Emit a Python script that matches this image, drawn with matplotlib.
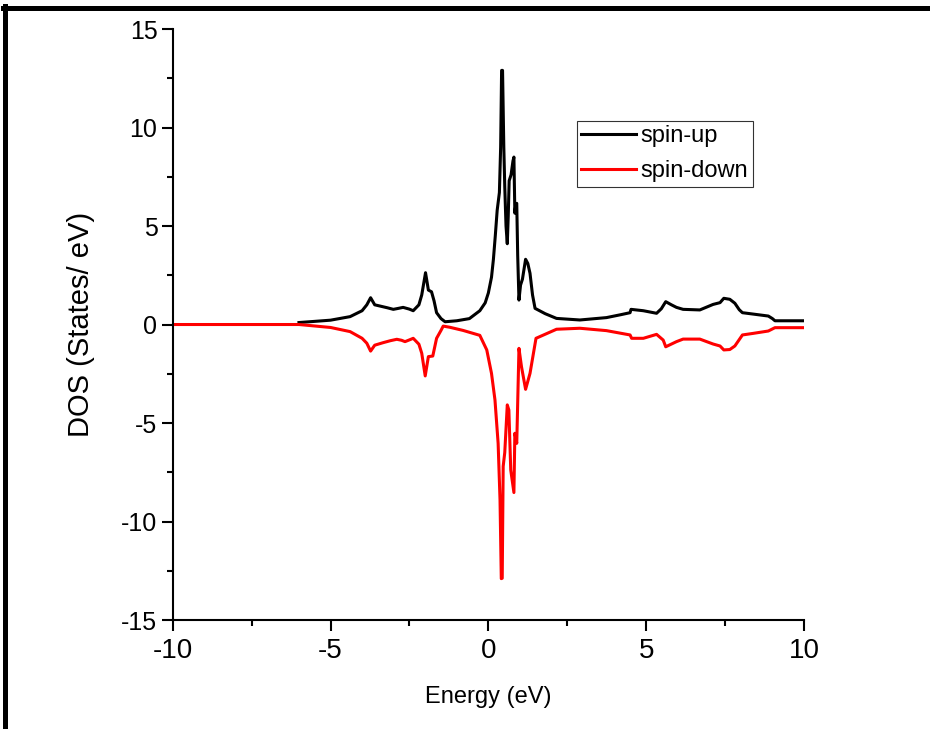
import matplotlib
matplotlib.use('Agg')
import matplotlib.pyplot as plt
from matplotlib.lines import Line2D
from matplotlib.ticker import MultipleLocator

plt.rcParams['font.family'] = ['Liberation Sans', 'DejaVu Sans']
plt.rcParams['axes.unicode_minus'] = False

# spin-up DOS
e_up = [-6.0, -5.0, -4.38, -4.0, -3.85, -3.73, -3.6, -3.44, -3.2, -3.01, -2.85, -2.70, -2.5, -2.38,
        -2.2, -2.11, -1.99, -1.90, -1.80, -1.72, -1.64, -1.5, -1.37, -1.0, -0.6, -0.27, -0.1, 0.0,
        0.1, 0.16, 0.22, 0.28, 0.35, 0.39, 0.42, 0.45, 0.49, 0.52, 0.56, 0.60, 0.63, 0.66, 0.72,
        0.78, 0.81, 0.84, 0.87, 0.90, 0.93, 0.97, 1.02, 1.08, 1.18, 1.25, 1.32, 1.40, 1.48, 1.8,
        2.16, 2.9, 3.74, 4.2, 4.49, 4.52, 4.91, 5.33, 5.48, 5.62, 5.8, 5.96, 6.17, 6.70, 7.12,
        7.34, 7.46, 7.65, 7.81, 7.95, 8.05, 8.39, 8.87, 9.0, 9.08, 10.0]
dos_up = [0.1, 0.22, 0.4, 0.7, 1.0, 1.36, 1.0, 0.94, 0.85, 0.77, 0.82, 0.87, 0.78, 0.70,
          1.0, 1.5, 2.63, 1.75, 1.66, 1.2, 0.6, 0.3, 0.14, 0.19, 0.3, 0.7, 1.1, 1.6,
          2.4, 3.3, 4.5, 5.8, 6.7, 9.0, 12.9, 12.9, 9.0, 7.0, 5.0, 4.1, 5.5, 7.3, 7.6,
          8.3, 8.5, 5.65, 6.1, 6.15, 3.5, 1.24, 2.0, 2.3, 3.31, 3.1, 2.6, 1.5, 0.82, 0.55,
          0.31, 0.23, 0.35, 0.5, 0.6, 0.77, 0.70, 0.57, 0.8, 1.16, 1.0, 0.87, 0.77, 0.74, 1.02,
          1.11, 1.33, 1.28, 1.08, 0.75, 0.6, 0.53, 0.43, 0.3, 0.19, 0.19]

# spin-down DOS
e_dn = [-10.0, -6.0, -5.0, -4.38, -4.0, -3.85, -3.73, -3.6, -3.33, -3.1, -2.9, -2.75, -2.64, -2.5,
        -2.38, -2.2, -2.11, -2.0, -1.90, -1.76, -1.64, -1.5, -1.43, -1.22, -0.8, -0.27, -0.05,
        0.10, 0.21, 0.31, 0.37, 0.41, 0.44, 0.47, 0.52, 0.60, 0.65, 0.71, 0.81, 0.84, 0.90, 0.97,
        1.05, 1.18, 1.32, 1.51, 2.16, 2.9, 3.74, 4.49, 4.54, 4.91, 5.33, 5.54, 5.62, 5.96, 6.17,
        6.70, 7.12, 7.34, 7.46, 7.65, 7.81, 8.05, 8.39, 8.87, 9.08, 10.0]
dos_dn = [0.0, 0.0, -0.15, -0.36, -0.7, -0.95, -1.35, -1.05, -0.92, -0.82, -0.75, -0.8, -0.87, -0.78,
          -0.7, -1.0, -1.46, -2.61, -1.63, -1.6, -0.7, -0.3, -0.08, -0.14, -0.3, -0.55, -1.29,
          -2.48, -3.83, -6.03, -8.9, -12.9, -12.88, -7.2, -6.5, -4.08, -4.34, -7.39, -8.53, -5.52, -6.03, -1.21,
          -2.14, -3.29, -2.48, -0.7, -0.24, -0.19, -0.31, -0.53, -0.7, -0.7, -0.5, -0.79, -1.13, -0.87, -0.74,
          -0.74, -0.99, -1.09, -1.29, -1.27, -1.09, -0.53, -0.45, -0.33, -0.16, -0.16]

fig = plt.figure(figsize=(9.3, 7.29), dpi=100)
ax = fig.add_axes([0.1857, 0.1495, 0.6788, 0.8107])

ax.plot(e_up, dos_up, color='black', lw=2.2, label='spin-up')
ax.plot(e_dn, dos_dn, color='red', lw=2.2, label='spin-down')

ax.set_xlim(-10, 10)
ax.set_ylim(-15, 15)
ax.xaxis.set_major_locator(MultipleLocator(5))
ax.xaxis.set_minor_locator(MultipleLocator(2.5))
ax.yaxis.set_major_locator(MultipleLocator(5))
ax.yaxis.set_minor_locator(MultipleLocator(2.5))

for s in ['top', 'right']:
    ax.spines[s].set_visible(False)
for s in ['left', 'bottom']:
    ax.spines[s].set_linewidth(1.5)

ax.tick_params(which='major', direction='out', length=8, width=1.5)
ax.tick_params(which='minor', direction='out', length=4, width=1.5)
ax.tick_params(axis='x', which='major', pad=5, labelsize=20)
ax.tick_params(axis='y', which='major', pad=3, labelsize=18)

ax.set_xlabel('Energy (eV)', fontsize=17, labelpad=16)
ax.set_ylabel('DOS (States/ eV)', fontsize=21, labelpad=19)

leg = ax.legend(loc='upper left', bbox_to_anchor=(0.64, 0.845), fontsize=17,
                frameon=True, fancybox=False, handlelength=2.3, handletextpad=0.2,
                borderpad=0.2, labelspacing=0.55, borderaxespad=0)
leg.get_frame().set_edgecolor('black')
leg.get_frame().set_linewidth(0.8)

# thick black frame pieces around the picture (top and left)
fig.add_artist(Line2D([0.003, 1.0], [0.989, 0.989], color='black', lw=3.6,
                      transform=fig.transFigure))
fig.add_artist(Line2D([0.0057, 0.0057], [0.0, 0.992], color='black', lw=3.6,
                      transform=fig.transFigure))

fig.savefig('out.png', dpi=100)
